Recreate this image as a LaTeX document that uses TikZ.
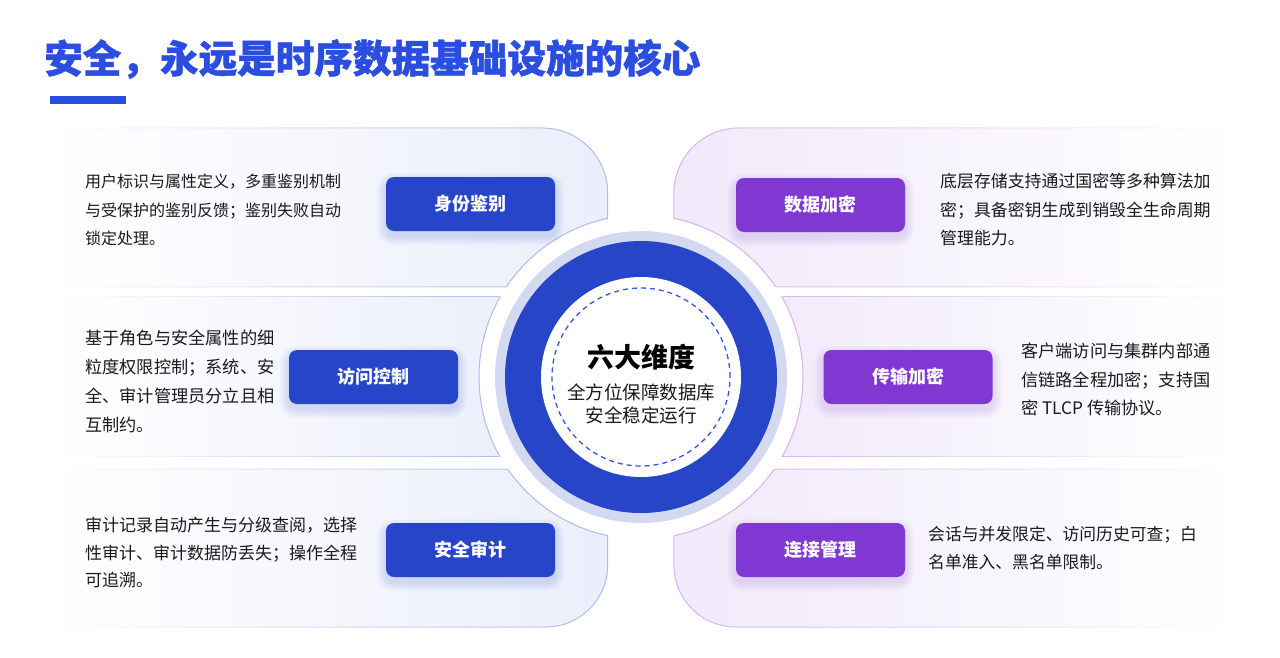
\documentclass[tikz,border=0pt]{standalone}
\usepackage{fontspec}
\setmainfont{Noto Sans CJK SC}
\usetikzlibrary{fadings,calc}
\definecolor{titleblue}{HTML}{2B4EE0}
\definecolor{btnblue}{HTML}{2745C8}
\definecolor{btnpurple}{HTML}{8038D3}
\definecolor{ringblue}{HTML}{2645C7}
\definecolor{ringpale}{HTML}{D4D9F2}
\definecolor{lfill}{HTML}{ECEFFB}
\definecolor{rfill}{HTML}{F1EAFB}
\definecolor{lline}{HTML}{AEBBEF}
\definecolor{rline}{HTML}{D2B5EE}
\definecolor{bodytext}{HTML}{1A1A1A}
\definecolor{dashblue}{HTML}{3556DE}
\definecolor{lshadow}{HTML}{5A6FD8}
\definecolor{rshadow}{HTML}{9A6BE0}
\tikzfading[name=fadeleft, left color=transparent!100, right color=transparent!0]
\tikzfading[name=faderight, left color=transparent!0, right color=transparent!100]
\pgfdeclarelayer{panels}
\pgfdeclarelayer{shade}
\pgfsetlayers{panels,shade,main}
\begin{document}
\begin{tikzpicture}[x=1pt,y=-1pt,
  btn/.style={minimum width=169pt, minimum height=54pt, rounded corners=8pt, text=white,
    font=\fontsize{18}{20}\selectfont\bfseries, inner sep=0pt},
  lbtn/.style={btn, fill=btnblue},
  rbtn/.style={btn, fill=btnpurple},
  desc/.style={align=left, text=bodytext, inner sep=0pt},
  lpanel/.style={fill=lfill, path fading=fadeleft},
  rpanel/.style={fill=rfill, path fading=faderight},
  lstroke/.style={draw=lline, line width=1pt, path fading=fadeleft},
  rstroke/.style={draw=rline, line width=1pt, path fading=faderight}
]
\useasboundingbox (0,0) rectangle (1280,657);
\coordinate (C) at (641,377);

% panels
\begin{pgfonlayer}{panels}
\fill[white] (0,0) rectangle (1280,657);
\def\pLT{(60,128) -- (543,128) arc[start angle=90,end angle=0,radius=65pt] -- (608,287) -- (60,287)}
\def\pLM{(60,297) -- (530,297) -- (530,456) -- (60,456)}
\def\pLB{(60,469) -- (608,469) -- (608,565) arc[start angle=0,end angle=-90,radius=62pt] -- (60,627)}
\def\pRT{(1222,128) -- (739,128) arc[start angle=90,end angle=180,radius=65pt] -- (674,287) -- (1222,287)}
\def\pRM{(1222,297) -- (752,297) -- (752,456) -- (1222,456)}
\def\pRB{(1222,469) -- (674,469) -- (674,565) arc[start angle=180,end angle=270,radius=62pt] -- (1222,627)}
\foreach \p in {\pLT,\pLM,\pLB}{
  \path[lpanel] \p -- cycle;
  \path[lstroke] \p;
}
\foreach \p in {\pRT,\pRM,\pRB}{
  \path[rpanel] \p -- cycle;
  \path[rstroke] \p;
}
\fill[white] (C) circle[radius=162pt];
\foreach \p in {\pLT,\pLM,\pLB}{
  \begin{scope}
  \clip \p -- cycle;
  \draw[lline, line width=1pt] (C) circle[radius=162pt];
  \end{scope}
}
\foreach \p in {\pRT,\pRM,\pRB}{
  \begin{scope}
  \clip \p -- cycle;
  \draw[rline, line width=1pt] (C) circle[radius=162pt];
  \end{scope}
}
\end{pgfonlayer}

% title
\node[anchor=west, inner sep=0pt, text=titleblue, font=\fontsize{38.6}{42}\selectfont\bfseries\addfontfeature{FakeBold=1.2}] (title) at (44,59) {安全，永远是时序数据基础设施的核心};
\node[fill=titleblue, minimum width=76pt, minimum height=8pt, inner sep=0pt] (bar) at (88,100) {};

% center
\node[circle, fill=ringpale, minimum size=292pt, inner sep=0pt] (ringpale) at (C) {};
\node[circle, fill=ringblue, minimum size=272pt, inner sep=0pt] (ringblue) at (C) {};
\node[circle, fill=white, minimum size=200pt, inner sep=0pt] (core) at (C) {};
\node[circle, draw=dashblue, line width=1.3pt, dash pattern=on 5pt off 4pt, minimum size=178pt, inner sep=0pt] (dashring) at (C) {};
\node[inner sep=0pt, text=black, font=\fontsize{27}{30}\selectfont\bfseries] (ctitle) at (641,357) {六大维度};
\node[inner sep=0pt, align=center, text=bodytext, font=\fontsize{18.5}{22.5}\selectfont] (csub) at (641,404) {全方位保障数据库\\安全稳定运行};

% buttons
\node[lbtn] (b1) at (470.5,204) {身份鉴别};
\node[lbtn] (b2) at (373.5,377) {访问控制};
\node[lbtn] (b3) at (470.5,550) {安全审计};
\node[rbtn] (b4) at (820.5,205) {数据加密};
\node[rbtn] (b5) at (908,377) {传输加密};
\node[rbtn] (b6) at (820.5,550) {连接管理};

\begin{pgfonlayer}{shade}
\foreach \n/\c in {b1/lshadow,b2/lshadow,b3/lshadow,b4/rshadow,b5/rshadow,b6/rshadow}{
  \foreach \i in {1,...,9}{
    \pgfmathsetmacro\rr{8+\i}
    \fill[\c, opacity=0.025, rounded corners=\rr pt]
      ($(\n.south west)+(-\i,5+\i)$) rectangle ($(\n.north east)+(\i,5-\i)$);
  }
}
\end{pgfonlayer}

% descriptions
\node[desc, anchor=west, font=\fontsize{16}{28.5}\selectfont] (t1) at (85,210)
  {用户标识与属性定义，多重鉴别机制\\与受保护的鉴别反馈；鉴别失败自动\\锁定处理。};
\node[desc, anchor=west, font=\fontsize{17.2}{29}\selectfont] (t2) at (85,381.5)
  {基于角色与安全属性的细\\粒度权限控制；系统、安\\全、审计管理员分立且相\\互制约。};
\node[desc, anchor=west, font=\fontsize{17}{27.5}\selectfont] (t3) at (85,552.5)
  {审计记录自动产生与分级查阅，选择\\性审计、审计数据防丢失；操作全程\\可追溯。};
\node[desc, anchor=west, font=\fontsize{16.9}{28.5}\selectfont] (t4) at (940,210)
  {底层存储支持通过国密等多种算法加\\密；具备密钥生成到销毁全生命周期\\管理能力。};
\node[desc, anchor=west, font=\fontsize{17.2}{28.5}\selectfont] (t5) at (1021,379.5)
  {客户端访问与集群内部通\\信链路全程加密；支持国\\密 TLCP 传输协议。};
\node[desc, anchor=west, font=\fontsize{16.8}{28}\selectfont] (t6) at (928,548)
  {会话与并发限定、访问历史可查；白\\名单准入、黑名单限制。};
\end{tikzpicture}
\end{document}
